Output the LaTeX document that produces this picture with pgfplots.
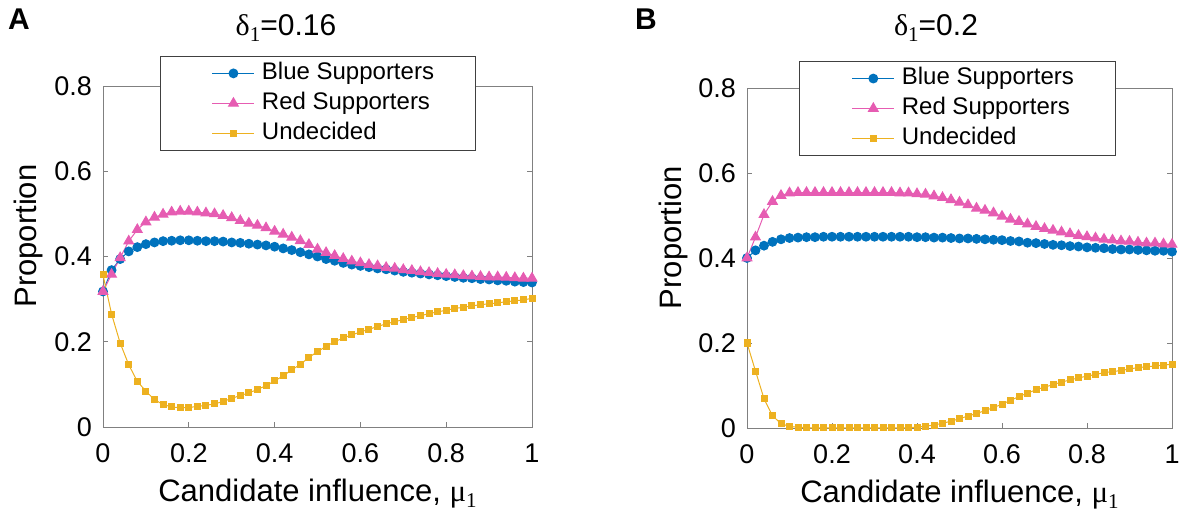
\documentclass[border=0pt]{standalone}
\usepackage{pgfplots}
\pgfplotsset{compat=1.18}
\usepackage{pgfplotstable}
\usepackage{fontspec}
\setmainfont{Liberation Sans}
\newfontfamily\serif{Liberation Serif}
\definecolor{cblue}{RGB}{0,114,189}
\definecolor{cpink}{RGB}{230,92,178}
\definecolor{cyel}{RGB}{237,177,32}
\definecolor{axgray}{RGB}{128,128,128}

\pgfplotstableread{
x b r u
0.00 0.318 0.318 0.357
0.02 0.368 0.358 0.265
0.04 0.394 0.397 0.197
0.06 0.412 0.436 0.146
0.08 0.422 0.463 0.107
0.10 0.429 0.481 0.084
0.12 0.433 0.492 0.064
0.14 0.436 0.499 0.053
0.16 0.437 0.504 0.047
0.18 0.438 0.506 0.045
0.20 0.438 0.506 0.046
0.22 0.437 0.504 0.048
0.24 0.436 0.502 0.051
0.26 0.436 0.500 0.054
0.28 0.435 0.496 0.060
0.30 0.433 0.491 0.067
0.32 0.432 0.484 0.074
0.34 0.430 0.478 0.080
0.36 0.428 0.473 0.088
0.38 0.426 0.467 0.097
0.40 0.423 0.459 0.108
0.42 0.419 0.452 0.120
0.44 0.415 0.445 0.134
0.46 0.410 0.437 0.147
0.48 0.405 0.428 0.163
0.50 0.400 0.417 0.177
0.52 0.394 0.409 0.189
0.54 0.390 0.402 0.200
0.56 0.385 0.395 0.209
0.58 0.381 0.389 0.216
0.60 0.378 0.385 0.223
0.62 0.375 0.381 0.229
0.64 0.372 0.378 0.236
0.66 0.370 0.374 0.242
0.68 0.367 0.372 0.247
0.70 0.364 0.369 0.252
0.72 0.362 0.367 0.257
0.74 0.360 0.364 0.261
0.76 0.358 0.362 0.266
0.78 0.356 0.360 0.270
0.80 0.354 0.358 0.274
0.82 0.352 0.357 0.278
0.84 0.350 0.355 0.281
0.86 0.349 0.354 0.284
0.88 0.347 0.353 0.287
0.90 0.346 0.352 0.289
0.92 0.344 0.352 0.291
0.94 0.343 0.351 0.294
0.96 0.341 0.350 0.296
0.98 0.340 0.349 0.298
1.00 0.339 0.349 0.302
}\dataA

\pgfplotstableread{
x b r u
0.00 0.400 0.400 0.200
0.02 0.418 0.449 0.134
0.04 0.429 0.502 0.069
0.06 0.438 0.533 0.029
0.08 0.444 0.547 0.010
0.10 0.447 0.553 0.004
0.12 0.448 0.554 0.0015
0.14 0.449 0.554 0.001
0.16 0.449 0.554 0.000
0.18 0.450 0.554 0.000
0.20 0.450 0.554 0.000
0.22 0.450 0.554 0.000
0.24 0.450 0.554 0.000
0.26 0.450 0.554 0.000
0.28 0.450 0.554 0.000
0.30 0.450 0.554 0.000
0.32 0.450 0.554 0.000
0.34 0.450 0.554 0.000
0.36 0.450 0.553 0.000
0.38 0.450 0.553 0.001
0.40 0.449 0.551 0.002
0.42 0.449 0.550 0.004
0.44 0.448 0.546 0.007
0.46 0.448 0.542 0.011
0.48 0.447 0.537 0.016
0.50 0.446 0.531 0.022
0.52 0.446 0.525 0.028
0.54 0.445 0.517 0.034
0.56 0.444 0.512 0.041
0.58 0.443 0.506 0.048
0.60 0.442 0.498 0.056
0.62 0.440 0.491 0.065
0.64 0.439 0.486 0.074
0.66 0.436 0.480 0.082
0.68 0.435 0.474 0.090
0.70 0.433 0.469 0.096
0.72 0.431 0.465 0.102
0.74 0.430 0.461 0.108
0.76 0.428 0.457 0.113
0.78 0.427 0.453 0.118
0.80 0.425 0.450 0.122
0.82 0.424 0.447 0.126
0.84 0.423 0.444 0.130
0.86 0.421 0.442 0.133
0.88 0.420 0.440 0.135
0.90 0.420 0.439 0.139
0.92 0.419 0.437 0.142
0.94 0.418 0.435 0.144
0.96 0.417 0.435 0.146
0.98 0.417 0.433 0.148
1.00 0.415 0.432 0.150
}\dataB

\pgfplotsset{
  panel/.style={
    scale only axis, clip=false,
    xmin=0, xmax=1, ymin=0, ymax=0.8,
    xtick={0,0.2,0.4,0.6,0.8,1},
    ytick={0,0.2,0.4,0.6,0.8},
    tick align=inside, xtick pos=both, ytick pos=both,
    major tick length=5pt,
    axis line style={axgray, line width=0.8pt},
    every tick/.style={axgray, line width=0.8pt},
    /pgf/number format/assume math mode=true,
    ticklabel style={font=\fontsize{27}{27}\selectfont, text=black},
    xticklabel style={anchor=base, inner sep=0pt, yshift=-36pt},
    yticklabel style={anchor=east, inner sep=0pt, xshift=-11pt},
    xlabel={Candidate influence, {\serif μ}\raisebox{-6pt}{\fontsize{21}{21}\selectfont\serif 1}},
    ylabel={Proportion},
    label style={font=\fontsize{31}{31}\selectfont},
    xlabel style={at={(axis description cs:0.5,0)}, anchor=base, yshift=-75pt},
    legend cell align=left,
    legend image code/.code={
      \path (-11pt,0pt) (0pt,0pt);
      \draw[mark repeat=2,mark phase=2,##1] plot coordinates {(0pt,0pt) (21pt,0pt) (42pt,0pt)};
    },
  },
  bser/.style={cblue, line width=1pt, mark=*, mark size=4.4pt, mark options={solid, fill=cblue, draw=cblue}},
  rser/.style={cpink, line width=1pt, mark=triangle*, mark size=5.6pt, mark options={solid, fill=cpink, draw=cpink}},
  user/.style={cyel, line width=1pt, mark=square*, mark size=3pt, mark options={solid, fill=cyel, draw=cyel}},
  legbox/.style={
    legend style={
      anchor=north, draw=black!75, line width=0.8pt, fill=white,
      inner xsep=41pt, inner ysep=6pt,
      font=\fontsize{24}{24}\selectfont,
      row sep=8pt, column sep=7pt,
      nodes={inner sep=0pt, text height=17pt, text depth=5pt},
    },
  },
}

\begin{document}
\begin{tikzpicture}
\useasboundingbox (0pt,0pt) rectangle (1187pt,514pt);

\begin{axis}[panel, legbox,
  at={(103pt,87pt)}, anchor=south west,
  width=429pt, height=341pt,
  ylabel style={at={(axis description cs:-0.154,0.56)}, anchor=base},
  legend style={at={(axis description cs:0.5,1.088)}},
]
\addplot[bser] table[x=x, y=b] {\dataA};
\addlegendentry{Blue Supporters}
\addplot[rser] table[x=x, y=r] {\dataA};
\addlegendentry{Red Supporters}
\addplot[user] table[x=x, y=u] {\dataA};
\addlegendentry{Undecided}
\end{axis}

\begin{axis}[panel, legbox,
  at={(747pt,86pt)}, anchor=south west,
  width=425pt, height=340pt,
  ylabel style={at={(axis description cs:-0.155,0.56)}, anchor=base},
  legend style={at={(axis description cs:0.495,1.079)}},
]
\addplot[bser] table[x=x, y=b] {\dataB};
\addlegendentry{Blue Supporters}
\addplot[rser] table[x=x, y=r] {\dataB};
\addlegendentry{Red Supporters}
\addplot[user] table[x=x, y=u] {\dataB};
\addlegendentry{Undecided}
\end{axis}

\node[anchor=base west, inner sep=0pt, font=\fontsize{30}{30}\selectfont\bfseries] at (8pt,484pt) {A};
\node[anchor=base west, inner sep=0pt, font=\fontsize{30}{30}\selectfont\bfseries] at (635pt,484pt) {B};
\node[anchor=base, inner sep=0pt, font=\fontsize{30}{30}\selectfont] at (286pt,478pt)
  {{\serif δ}\raisebox{-6pt}{\fontsize{21}{21}\selectfont\serif 1}=0.16};
\node[anchor=base, inner sep=0pt, font=\fontsize{30}{30}\selectfont] at (936pt,478pt)
  {{\serif δ}\raisebox{-6pt}{\fontsize{21}{21}\selectfont\serif 1}=0.2};
\end{tikzpicture}
\end{document}
